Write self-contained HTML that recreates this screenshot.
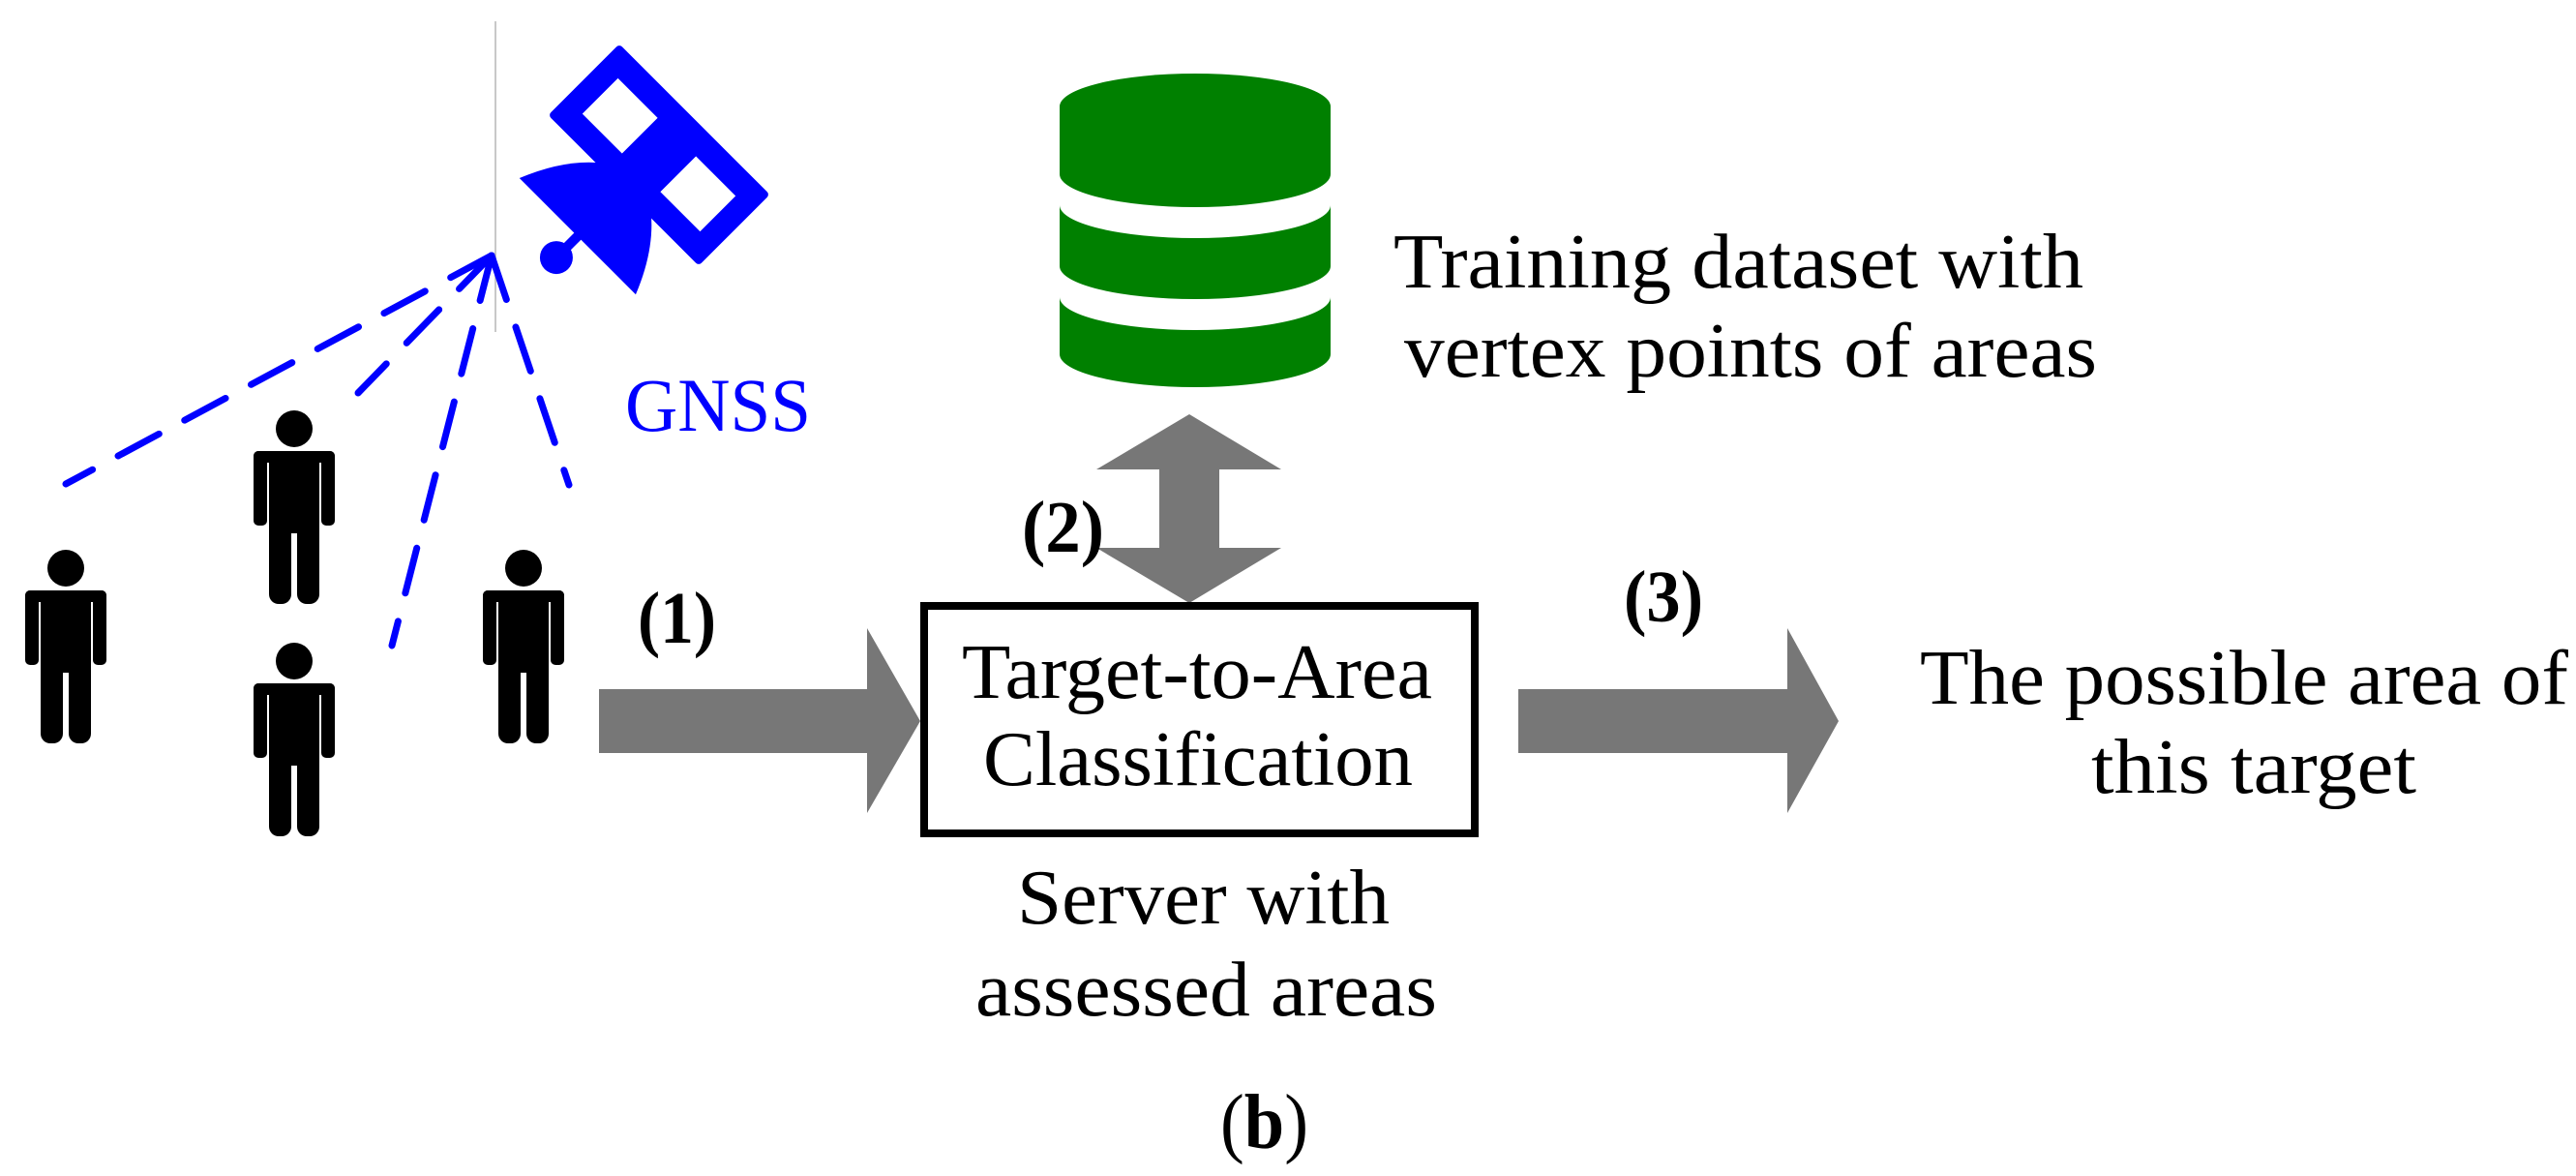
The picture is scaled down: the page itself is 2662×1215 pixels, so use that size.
<!DOCTYPE html>
<html><head><meta charset="utf-8"><style>html,body{margin:0;padding:0;background:#fff}svg{display:block}</style></head>
<body>
<svg width="2662" height="1215" viewBox="0 0 2662 1215" xmlns="http://www.w3.org/2000/svg" font-family="Liberation Serif, serif">
<defs>
<g id="p">
<circle cx="0" cy="0" r="19" fill="#000"/>
<rect x="-42" y="23" width="14" height="77" rx="5" fill="#000"/>
<rect x="28" y="23" width="14" height="77" rx="5" fill="#000"/>
<rect x="-42" y="23" width="84" height="12" rx="5" fill="#000"/>
<rect x="-26" y="23" width="52" height="85" fill="#000"/>
<rect x="-26" y="90" width="23" height="91" rx="10" fill="#000"/>
<rect x="3" y="90" width="23" height="91" rx="10" fill="#000"/>
</g>
</defs>
<line x1="512" y1="22" x2="512" y2="343" stroke="#c8c8c8" stroke-width="2"/>
<g transform="translate(681,160) rotate(45)" fill="#0000ff">
<path fill-rule="evenodd" d="M-106,-48 H106 V48 H-106 Z M-90,-30 H-24 V30 H-90 Z M24,-30 H90 V30 H24 Z" stroke="#0000ff" stroke-width="8" stroke-linejoin="round"/>
<rect x="-26" y="-40" width="52" height="80" />
<path d="M-85,119 L85,119 Q62,62 22,38 L-22,38 Q-62,62 -85,119 Z"/>
<rect x="-5" y="115" width="10" height="30"/>
<circle cx="0" cy="150" r="17"/>
</g>
<g stroke="#0000ff" stroke-width="7" stroke-dasharray="48 30" fill="none" stroke-linecap="round">
<line x1="508" y1="264" x2="68" y2="500"/>
<line x1="508" y1="264" x2="370" y2="406"/>
<line x1="508" y1="264" x2="405" y2="667"/>
<line x1="508" y1="264" x2="588" y2="501"/>
</g>
<text x="646" y="445" font-size="78" fill="#0000ff" textLength="192" lengthAdjust="spacingAndGlyphs">GNSS</text>
<use href="#p" x="68" y="587"/>
<use href="#p" x="304" y="443"/>
<use href="#p" x="304" y="683"/>
<use href="#p" x="541" y="587"/>
<g fill="#777">
<polygon points="619,712 896,712 896,649 951,745 896,840 896,778 619,778"/>
<polygon points="1569,712 1847,712 1847,649 1900,745 1847,840 1847,778 1569,778"/>
<polygon points="1229,428 1324,485 1260,485 1260,566 1324,566 1229,623 1133,566 1198,566 1198,485 1133,485"/>
</g>
<g fill="#008000">
<path d="M1095,110 A140,34 0 0 1 1375,110 V180 A140,34 0 0 1 1095,180 Z"/>
<path d="M1095,212 A140,34 0 0 0 1375,212 V275 A140,34 0 0 1 1095,275 Z"/>
<path d="M1095,307 A140,34 0 0 0 1375,307 V366 A140,34 0 0 1 1095,366 Z"/>
</g>
<rect x="955" y="626" width="569" height="235" fill="none" stroke="#000" stroke-width="8"/>
<g font-size="80" fill="#000">
<text x="1440" y="297" textLength="713" lengthAdjust="spacingAndGlyphs">Training dataset with</text>
<text x="1451" y="389" textLength="716" lengthAdjust="spacingAndGlyphs">vertex points of areas</text>
<text x="994" y="721" textLength="486" lengthAdjust="spacingAndGlyphs">Target-to-Area</text>
<text x="1016" y="811" textLength="444" lengthAdjust="spacingAndGlyphs">Classification</text>
<text x="1051" y="954" textLength="385" lengthAdjust="spacingAndGlyphs">Server with</text>
<text x="1008" y="1049" textLength="477" lengthAdjust="spacingAndGlyphs">assessed areas</text>
<text x="1984" y="727" textLength="670" lengthAdjust="spacingAndGlyphs">The possible area of</text>
<text x="2161" y="819" textLength="336" lengthAdjust="spacingAndGlyphs">this target</text>
<text x="1261" y="1186" textLength="91" lengthAdjust="spacingAndGlyphs">(<tspan font-weight="bold">b</tspan>)</text>
</g>
<g font-size="76" font-weight="bold" fill="#000">
<text x="659" y="664" textLength="81" lengthAdjust="spacingAndGlyphs">(1)</text>
<text x="1056" y="570" textLength="85" lengthAdjust="spacingAndGlyphs">(2)</text>
<text x="1678" y="642" textLength="82" lengthAdjust="spacingAndGlyphs">(3)</text>
</g>
</svg>
</body></html>
